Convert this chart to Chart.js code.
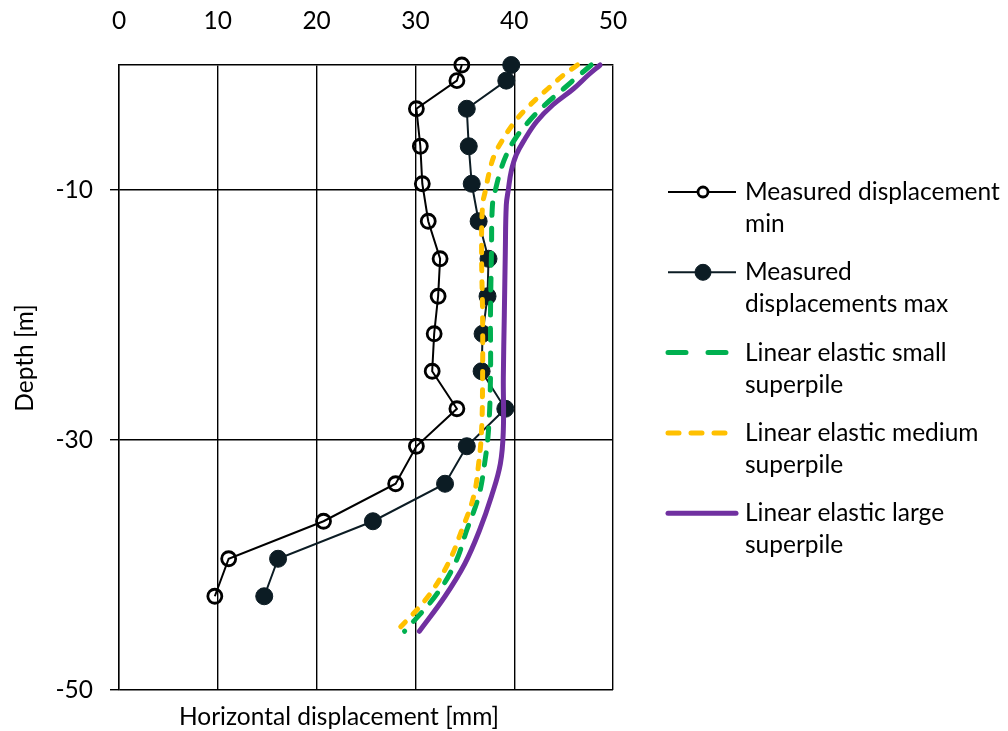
<!DOCTYPE html>
<html lang="en">
<head>
<meta charset="UTF-8">
<title>Horizontal displacement vs depth</title>
<script src="https://cdn.jsdelivr.net/npm/chart.js"></script>
<style>
  body { margin: 0; background: #ffffff; }
  #wrap { width: 1008px; height: 731px; }
</style>
</head>
<body>
<div id="wrap"><canvas id="chart"></canvas></div>
<script>
// measured profile: depth [m] and horizontal displacement [mm]
const measuredDepth = [0, -1.25, -3.5, -6.5, -9.5, -12.5, -15.5, -18.5, -21.5, -24.5, -27.5, -30.5, -33.5, -36.5, -39.5, -42.5];
const measuredMin = [34.7, 34.2, 30.1, 30.5, 30.7, 31.3, 32.5, 32.3, 31.9, 31.7, 34.2, 30.1, 28.0, 20.7, 11.1, 9.7];
const measuredMax = [39.7, 39.2, 35.2, 35.4, 35.7, 36.4, 37.4, 37.3, 36.8, 36.7, 39.1, 35.2, 33.0, 25.7, 16.1, 14.7];

// linear elastic model curves
const modelDepth = [0, -0.8, -1.9, -3.2, -4.5, -5.9, -7.2, -8.5, -10, -11.2, -15, -20, -25, -29.2, -31.9, -34.5, -37.2, -39.9, -42.5, -45.3];
const smallPile = [47.8, 46.6, 45.0, 43.1, 41.5, 40.1, 39.2, 38.6, 38.1, 37.8, 37.7, 37.6, 37.6, 37.4, 37.0, 36.4, 35.2, 34.0, 32.0, 28.9];
const mediumPile = [46.4, 45.0, 43.4, 41.6, 40.1, 38.9, 38.0, 37.5, 37.1, 36.8, 36.7, 36.8, 36.8, 36.7, 36.4, 35.9, 34.7, 33.3, 31.3, 28.1];
const largePile = [48.7, 47.5, 46.0, 43.9, 42.3, 41.1, 40.2, 39.7, 39.4, 39.2, 39.1, 39.0, 38.9, 38.9, 38.6, 37.7, 36.5, 35.0, 33.0, 30.4];

const xTicks = [0, 10, 20, 30, 40, 50];
const yTicks = [-10, -30, -50];

const seriesLabels = [
    ['Measured displacement', 'min'],
    ['Measured', 'displacements max'],
    ['Linear elastic small', 'superpile'],
    ['Linear elastic medium', 'superpile'],
    ['Linear elastic large', 'superpile']
];

const FONT = '24.5px Lato';

function toPoints(xs, ys) {
    return xs.map((x, i) => ({ x: x, y: ys[i] }));
}

// legend on the right, drawn by hand so labels can wrap like the original
const sideLegend = {
    id: 'sideLegend',
    afterDraw(chart) {
        const ctx = chart.ctx;
        chart.data.datasets.forEach((ds, i) => {
            const y = 192 + i * 80.3;
            ctx.save();
            ctx.strokeStyle = ds.borderColor;
            ctx.lineWidth = ds.borderWidth;
            ctx.lineCap = ds.borderCapStyle || 'butt';
            ctx.setLineDash(ds.legendDash || []);
            ctx.beginPath();
            ctx.moveTo(668, y);
            ctx.lineTo(ds.legendEnd || 736, y);
            ctx.stroke();
            ctx.setLineDash([]);
            if (ds.pointRadius > 0) {
                ctx.beginPath();
                ctx.arc(703, y, ds.legendRadius, 0, Math.PI * 2);
                ctx.fillStyle = ds.legendFill;
                ctx.fill();
                ctx.lineWidth = ds.pointBorderWidth;
                ctx.strokeStyle = ds.pointBorderColor;
                ctx.stroke();
            }
            ctx.font = FONT;
            ctx.fillStyle = '#000';
            ctx.textAlign = 'left';
            ctx.textBaseline = 'middle';
            seriesLabels[i].forEach((line, k) => {
                ctx.fillText(line, 745, y + k * 32);
            });
            ctx.restore();
        });
    }
};

const axisTitles = {
    id: 'axisTitles',
    afterDraw(chart) {
        const ctx = chart.ctx;
        ctx.save();
        ctx.font = FONT;
        ctx.fillStyle = '#000';
        ctx.textAlign = 'center';
        ctx.textBaseline = 'middle';
        ctx.fillText('Horizontal displacement [mm]', 339, 717);
        ctx.translate(25, 358);
        ctx.rotate(-Math.PI / 2);
        ctx.fillText('Depth [m]', 0, 0);
        ctx.restore();
    }
};

const ctx = document.getElementById('chart').getContext('2d');
const chart = new Chart(ctx, {
    type: 'scatter',
    data: {
        datasets: [
            {
                label: seriesLabels[0].join(' '),
                data: toPoints(measuredMin, measuredDepth),
                showLine: true,
                borderColor: '#000000',
                borderWidth: 2,
                pointRadius: 7,
                pointBorderWidth: 2.8,
                pointBorderColor: '#000000',
                pointBackgroundColor: 'rgba(0,0,0,0)',
                legendRadius: 5,
                legendFill: '#ffffff',
                clip: false,
                order: 5
            },
            {
                label: seriesLabels[1].join(' '),
                data: toPoints(measuredMax, measuredDepth),
                showLine: true,
                borderColor: '#0c1c24',
                borderWidth: 2,
                pointRadius: 8.5,
                pointBorderWidth: 1,
                pointBorderColor: '#0c1c24',
                pointBackgroundColor: '#0c1c24',
                legendRadius: 8,
                legendFill: '#0c1c24',
                clip: false,
                order: 4
            },
            {
                label: seriesLabels[2].join(' '),
                data: toPoints(smallPile, modelDepth),
                showLine: true,
                borderColor: '#00b050',
                borderWidth: 5,
                borderDash: [12, 13],
                borderCapStyle: 'round',
                legendDash: [18, 22],
                legendEnd: 730,
                pointRadius: 0,
                tension: 0.4,
                clip: false,
                order: 3
            },
            {
                label: seriesLabels[3].join(' '),
                data: toPoints(mediumPile, modelDepth),
                showLine: true,
                borderColor: '#ffc000',
                borderWidth: 5,
                borderDash: [7, 11],
                borderCapStyle: 'round',
                legendDash: [11, 12],
                legendEnd: 730,
                pointRadius: 0,
                tension: 0.4,
                clip: false,
                order: 2
            },
            {
                label: seriesLabels[4].join(' '),
                data: toPoints(largePile, modelDepth),
                showLine: true,
                borderColor: '#7030a0',
                borderWidth: 5,
                borderCapStyle: 'round',
                pointRadius: 0,
                tension: 0.4,
                clip: false,
                order: 1
            }
        ]
    },
    options: {
        responsive: true,
        maintainAspectRatio: false,
        animation: false,
        layout: { padding: { top: 0, left: 0, right: 395, bottom: 41 } },
        font: { family: 'Lato' },
        scales: {
            x: {
                type: 'linear',
                position: 'top',
                min: 0,
                max: 50,
                afterFit: (scale) => { scale.height = 65; },
                afterBuildTicks: (scale) => { scale.ticks = xTicks.map(v => ({ value: v })); },
                grid: { color: '#000000', lineWidth: 1.4, drawTicks: false },
                border: { color: '#000000', width: 1.4 },
                ticks: { color: '#000000', font: { family: 'Lato', size: 24.5 }, padding: 29 }
            },
            y: {
                type: 'linear',
                min: -50,
                max: 0,
                afterFit: (scale) => { scale.width = 119; },
                afterBuildTicks: (scale) => { scale.ticks = yTicks.map(v => ({ value: v })); },
                grid: { color: '#000000', lineWidth: 1.4, tickLength: 9 },
                border: { color: '#000000', width: 1.4 },
                ticks: { color: '#000000', font: { family: 'Lato', size: 24.5 }, padding: 17 }
            }
        },
        plugins: {
            legend: { display: false },
            tooltip: { enabled: false },
            title: { display: false }
        }
    },
    plugins: [sideLegend, axisTitles]
});
</script>
</body>
</html>
